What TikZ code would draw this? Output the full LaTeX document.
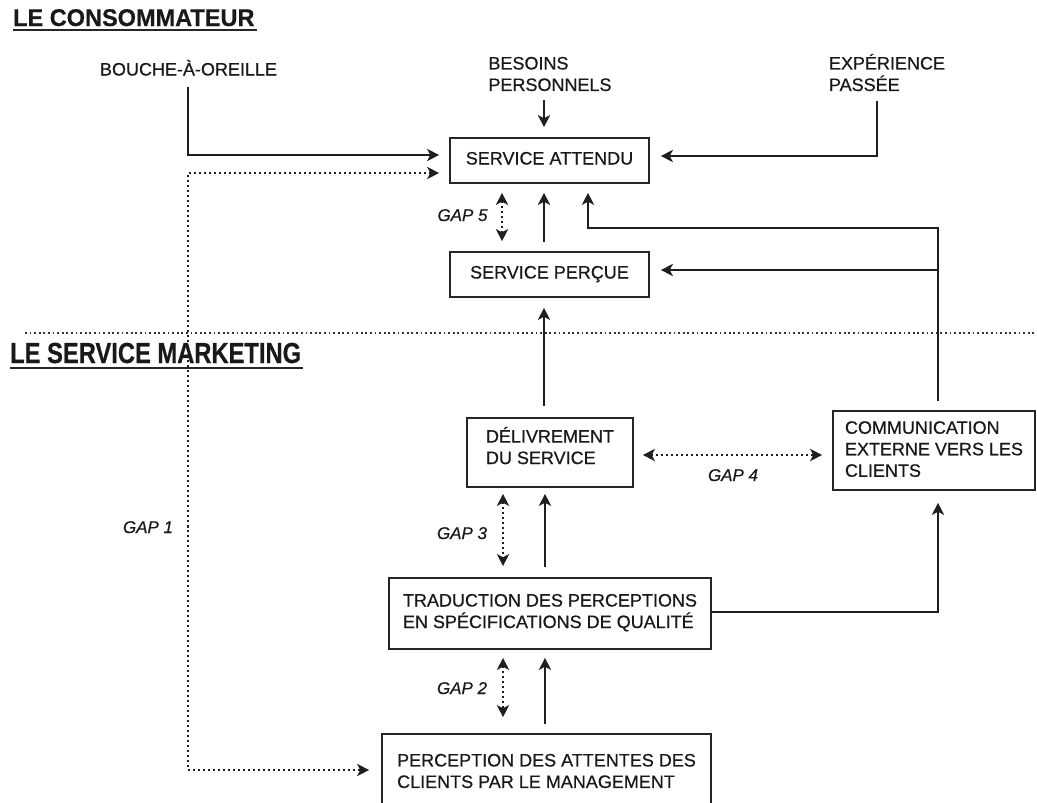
\documentclass[tikz,border=0pt]{standalone}
\usepackage{fontspec}
\setmainfont{Liberation Sans}
\newfontfamily\labelfont[FakeBold=0.6]{Liberation Sans}
\usetikzlibrary{arrows.meta,calc}
\begin{document}
\begin{tikzpicture}[x=1pt,y=-1pt,
  every node/.style={inner sep=0pt, font=\labelfont\fontsize{18}{21.5}\selectfont, text=black!90},
  box/.style={draw=black!85, line width=1.6pt, align=left},
  onel/.style={text height=13pt, text depth=5pt},
  lbl/.style={align=left},
  gaplbl/.style={font=\labelfont\fontsize{17}{20}\selectfont\itshape, text height=12pt, text depth=0pt},
  head/.style={font=\labelfont\fontsize{21}{25}\selectfont\bfseries, anchor=base west},
  tip/.tip={Stealth[length=12pt,width=12pt,inset=3pt]},
  arr/.style={draw=black!88, line width=2pt, -tip},
  gapdbl/.style={draw=black!88, line width=2pt, dash pattern=on 2pt off 3pt, tip-tip},
  sep/.style={draw=black!80, line width=1.8pt, dash pattern=on 1.8pt off 2.8pt},
  uline/.style={draw=black!85, line width=2pt}
]
\useasboundingbox (0,0) rectangle (1037,803);
\clip (0,0) rectangle (1037,803);

% section headings
\node[head] (h1) at (13,26) {\scalebox{1.12}[1.15]{LE CONSOMMATEUR}};
\draw[uline] ($(h1.base west)+(0,4)$) -- ($(h1.base east)+(2,4)$);
\node[head] (h2) at (10,363) {\scalebox{1.13}[1.38]{LE SERVICE MARKETING}};
\draw[uline] ($(h2.base west)+(0,5)$) -- ($(h2.base east)+(2,5)$);

% boundary between the two sides
\coordinate (sepL) at (25,333);
\coordinate (sepR) at (1037,333);
\draw[sep] (sepL) -- (sepR);

% consumer-side inputs
\node[lbl, text height=13pt, text depth=0pt] (bouche) at (188.5,69) {BOUCHE-À-OREILLE};
\node[lbl] (besoins) at (550,74) {BESOINS\\PERSONNELS};
\node[lbl] (exp) at (887,72.5) {EXPÉRIENCE\\PASSÉE};

% boxes
\node[box, onel, minimum width=199pt, minimum height=45pt] (att) at (549.5,160.5) {SERVICE ATTENDU};
\node[box, onel, minimum width=199pt, minimum height=45pt] (per) at (549.5,274.5) {SERVICE PERÇUE};
\node[box, minimum width=166pt, minimum height=69pt] (del) at (550,452.5) {DÉLIVREMENT\\DU SERVICE\rule[-14pt]{0pt}{14pt}};
\node[box, minimum width=202pt, minimum height=79pt] (comm) at (934,450.5) {COMMUNICATION\\EXTERNE VERS LES\\CLIENTS\rule[-3pt]{0pt}{3pt}};
\node[box, minimum width=322pt, minimum height=71pt] (trad) at (550,613.5) {TRADUCTION DES PERCEPTIONS\\EN SPÉCIFICATIONS DE QUALITÉ\rule[-5pt]{0pt}{5pt}};
\node[box, minimum width=329pt, minimum height=74pt] (perc) at (546.5,771) {PERCEPTION DES ATTENTES DES\\CLIENTS PAR LE MANAGEMENT};

% gap labels
\node[gaplbl] (g5) at (462.5,215) {GAP 5};
\node[gaplbl] (g4) at (733,475) {GAP 4};
\node[gaplbl] (g3) at (462,533) {GAP 3};
\node[gaplbl] (g2) at (462,688) {GAP 2};
\node[gaplbl] (g1) at (148,527) {GAP 1};
\coordinate (g1line) at (188,527);

% inputs to the expected service
\draw[arr] ($(bouche.south)+(-0.5,11)$) |- ($(att.west)+(-10,-5.5)$);
\draw[arr] ($(besoins.south)+(-6,9)$) -- ($(att.north)+(-5.5,-10)$);
\draw[arr] ($(exp.south)+(-10,10)$) |- ($(att.east)+(11,-4.5)$);

% GAP 1 between expected service and management perception
\draw[gapdbl] ($(att.west)+(-10,12.5)$) -| (g1line) |- ($(perc.west)+(-12,-1)$);

% perceived vs expected
\draw[arr] ($(per.north)+(-5.5,-9)$) -- ($(att.south)+(-5.5,9)$);
\draw[gapdbl] ($(att.south)+(-47.5,9)$) -- ($(per.north)+(-47.5,-10)$);

% external communication feeds both expectations and perceptions
\draw[arr] ($(comm.north)+(4,-9)$) |- ($(att.south)+(38.5,44)$) -- ($(att.south)+(38.5,9)$);
\draw[arr] ($(comm.north)+(4,-9)$) |- ($(per.east)+(11,-4.5)$);

% delivery
\draw[arr] ($(del.north)+(-6,-11)$) -- ($(per.south)+(-5.5,10)$);
\draw[gapdbl] ($(del.east)+(9,2.5)$) -- ($(comm.west)+(-10,4.5)$);

% specifications
\draw[arr] ($(trad.east)+(0,-1.5)$) -| ($(comm.south)+(4,12)$);
\draw[arr] ($(trad.north)+(-5,-10)$) -- ($(del.south)+(-5,6)$);
\draw[gapdbl] ($(del.south)+(-47,6)$) -- ($(trad.north)+(-47,-11)$);

% management perception
\draw[arr] ($(perc.north)+(-1.5,-9)$) -- ($(trad.south)+(-5,8)$);
\draw[gapdbl] ($(trad.south)+(-47,8)$) -- ($(perc.north)+(-43.5,-16)$);
\end{tikzpicture}
\end{document}
